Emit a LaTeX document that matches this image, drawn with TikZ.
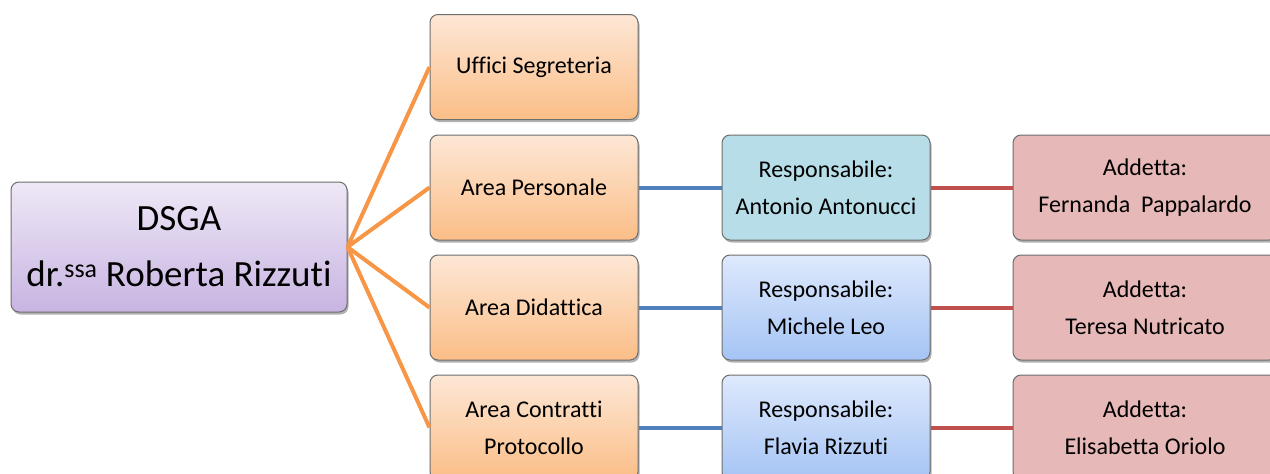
\documentclass[tikz,border=0pt]{standalone}
\usepackage{fontspec}
\setmainfont{Carlito}[Ligatures=NoCommon]
\usetikzlibrary{shadows}

\definecolor{boxline}{RGB}{110,110,110}
\definecolor{orangetop}{RGB}{253,231,214}
\definecolor{orangebot}{RGB}{251,190,135}
\definecolor{purpletop}{RGB}{238,232,246}
\definecolor{purplebot}{RGB}{200,180,226}
\definecolor{tealfill}{RGB}{183,222,232}
\definecolor{bluetop}{RGB}{222,233,252}
\definecolor{bluebot}{RGB}{165,196,245}
\definecolor{redfill}{RGB}{230,184,183}
\definecolor{orangeline}{RGB}{247,150,70}
\definecolor{blueline}{RGB}{79,129,189}
\definecolor{redline}{RGB}{192,80,77}

\tikzset{
  box/.style={draw=boxline, line width=1pt, rounded corners=8pt, align=center,
    inner sep=0pt, minimum width=208pt, minimum height=105pt,
    drop shadow={shadow xshift=1.5pt, shadow yshift=-2.5pt, opacity=0.3, fill=black},
    font=\fontsize{24}{37}\selectfont},
  chief/.style={box, minimum width=336pt, minimum height=130pt,
    top color=purpletop, bottom color=purplebot,
    font=\fontsize{37}{56}\selectfont},
  area/.style={box, top color=orangetop, bottom color=orangebot},
  resp/.style={box, top color=bluetop, bottom color=bluebot},
  addetta/.style={box, fill=redfill, minimum width=264pt},
  link/.style={line width=4pt},
}

\begin{document}
\begin{tikzpicture}[x=1pt, y=-1pt]
\clip (0,0) rectangle (1270,474);
\fill[white] (0,0) rectangle (1270,474);

% DSGA
\node[chief] (dsga) at (179,247) {DSGA\\dr.\textsuperscript{ssa} Roberta Rizzuti};

% aree
\node[area] (uffici) at (534,67) {Uffici Segreteria};
\node[area] (personale) at (534,187.5) {Area Personale};
\node[area] (didattica) at (534,307.5) {Area Didattica};
\node[area] (contratti) at (534,427.5) {Area Contratti\\Protocollo};

% responsabili
\node[box, fill=tealfill] (antonucci) at (826,187.5) {Responsabile:\\Antonio Antonucci};
\node[resp] (leo) at (826,307.5) {Responsabile:\\Michele Leo};
\node[resp] (flavia) at (826,427.5) {Responsabile:\\Flavia Rizzuti};

% addette
\node[addetta] (pappalardo) at (1145,187.5) {Addetta:\\Fernanda~~Pappalardo};
\node[addetta] (nutricato) at (1145,307.5) {Addetta:\\Teresa Nutricato};
\node[addetta] (oriolo) at (1145,427.5) {Addetta:\\Elisabetta Oriolo};

% collegamenti
\foreach \a in {uffici,personale,didattica,contratti}
  \draw[link, orangeline] (dsga.east) -- (\a.west);
\draw[link, blueline] (personale.east) -- (antonucci.west);
\draw[link, blueline] (didattica.east) -- (leo.west);
\draw[link, blueline] (contratti.east) -- (flavia.west);
\draw[link, redline] (antonucci.east) -- (pappalardo.west);
\draw[link, redline] (leo.east) -- (nutricato.west);
\draw[link, redline] (flavia.east) -- (oriolo.west);
\end{tikzpicture}
\end{document}
